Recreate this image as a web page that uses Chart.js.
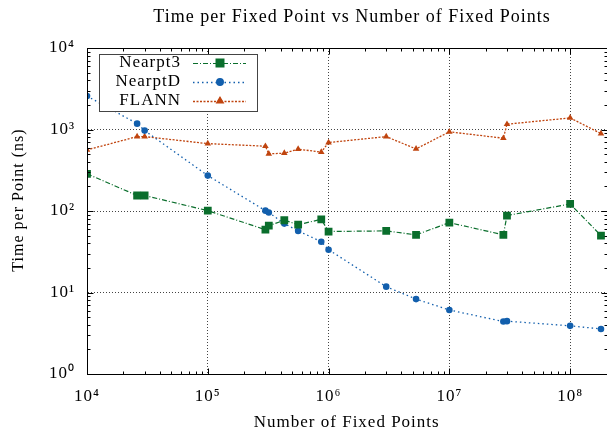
<!DOCTYPE html>
<html lang="en">
<head>
  <meta charset="UTF-8"/>
  <title>Time per Fixed Point vs Number of Fixed Points</title>
  <script src="https://cdn.jsdelivr.net/npm/chart.js"></script>
  <style>
    html, body { margin: 0; padding: 0; overflow: hidden; background: #fff; }
  </style>
</head>
<body>
  <canvas id="chart" width="612" height="431"></canvas>

  <script>
    // data (log-log)
    const fixedPoints = [1e4, 2.6e4, 3e4, 1e5, 3e5, 3.2e5, 4.3e5, 5.6e5, 8.7e5, 1e6, 3e6, 5.3e6, 1e7, 2.8e7, 3e7, 1e8, 1.8e8];
    const nearpt3 = [286, 155, 155, 101, 59, 66, 77, 68, 79, 56, 57, 51, 72, 51, 88, 122, 50];
    const nearptD = [2570, 1180, 970, 272, 101, 96, 70, 57, 42, 33.5, 11.8, 8.3, 6.1, 4.4, 4.45, 3.9, 3.57];
    const flann = [562, 818, 818, 671, 624, 502, 513, 574, 527, 692, 818, 578, 936, 782, 1162, 1387, 891];
    const xTicks = [1e4, 1e5, 1e6, 1e7, 1e8];
    const yTicks = [1, 10, 100, 1000, 10000];

    const SERIF = 'Liberation Serif';
    const sup = {'0':'\u2070','1':'\u00b9','2':'\u00b2','3':'\u00b3','4':'\u2074','5':'\u2075','6':'\u2076','7':'\u2077','8':'\u2078','9':'\u2079'};
    const pow10 = v => '10' + sup[String(Math.round(Math.log10(v)))];
    const pts = ys => fixedPoints.map((x, i) => ({x: x, y: ys[i]}));

    // border box, inward minor/major ticks, title, y label, legend
    const frame = {
      id: 'frame',
      beforeDraw(chart) {
        chart.ctx.letterSpacing = '1px';
      },
      afterDraw(chart) {
        const {ctx, chartArea: a, scales: {x, y}} = chart;
        const L = Math.round(a.left) + .5, R = Math.round(a.right) + .5;
        const T = Math.round(a.top) + .5, B = Math.round(a.bottom) + .5;
        ctx.save();
        ctx.strokeStyle = '#000';
        ctx.lineWidth = 1;
        ctx.strokeRect(L, T, R - L, B - T);
        ctx.beginPath();
        for (let d = 4; d <= 8; d++) {
          for (let m = 1; m <= 9; m++) {
            const v = m * Math.pow(10, d);
            if (v > x.max) break;
            const px = Math.round(x.getPixelForValue(v)) + .5;
            const len = m === 1 ? 6 : 3;
            ctx.moveTo(px, B); ctx.lineTo(px, B - len);
            ctx.moveTo(px, T); ctx.lineTo(px, T + len);
          }
        }
        for (let d = 0; d <= 4; d++) {
          for (let m = 1; m <= 9; m++) {
            const v = m * Math.pow(10, d);
            if (v > y.max) break;
            const py = Math.round(y.getPixelForValue(v)) + .5;
            const len = m === 1 ? 6 : 3;
            ctx.moveTo(L, py); ctx.lineTo(L + len, py);
            ctx.moveTo(R, py); ctx.lineTo(R - len, py);
          }
        }
        ctx.stroke();

        ctx.fillStyle = '#000';
        ctx.letterSpacing = '1px';
        ctx.textAlign = 'center';
        ctx.textBaseline = 'middle';

        // title, centred on the plot
        ctx.font = '18px "' + SERIF + '"';
        ctx.fillText('Time per Fixed Point vs Number of Fixed Points', 352, 17);

        // y axis label
        ctx.font = '16px "' + SERIF + '"';
        ctx.save();
        ctx.translate(19, 200);
        ctx.rotate(-Math.PI / 2);
        ctx.fillText('Time per Point (ns)', 0, 0);
        ctx.restore();

        // legend
        ctx.font = '17px "' + SERIF + '"';
        ctx.fillStyle = '#fff';
        ctx.fillRect(99.5, 54.5, 158, 57);
        ctx.strokeStyle = '#444';
        ctx.strokeRect(99.5, 54.5, 158, 57);
        const rows = [63, 82, 101];
        chart.data.datasets.forEach((ds, i) => {
          const ry = rows[i];
          ctx.fillStyle = '#000';
          ctx.textAlign = 'right';
          ctx.fillText(ds.label, 181, ry);
          ctx.strokeStyle = ds.borderColor;
          ctx.lineWidth = ds.borderWidth;
          ctx.setLineDash(ds.borderDash);
          ctx.beginPath();
          ctx.moveTo(193, ry + .5); ctx.lineTo(246, ry + .5);
          ctx.stroke();
          ctx.setLineDash([]);
          ctx.fillStyle = ds.backgroundColor;
          Chart.helpers.drawPoint(ctx, {pointStyle: ds.pointStyle, radius: ds.pointRadius, rotation: 0, borderWidth: 1}, 220, ry);
          ctx.fill();
        });
        ctx.restore();
      }
    };

    const ctx = document.getElementById('chart').getContext('2d');
    new Chart(ctx, {
      type: 'line',
      data: {
        datasets: [
          { label: 'Nearpt3', data: pts(nearpt3), borderColor: '#0a6e2c', backgroundColor: '#0a6e2c',
            borderWidth: 1.2, borderDash: [5, 2, 1, 2], pointStyle: 'rect', pointRadius: 5.5, pointBorderWidth: 0 },
          { label: 'NearptD', data: pts(nearptD), borderColor: '#125fad', backgroundColor: '#125fad',
            borderWidth: 1.3, borderDash: [1.5, 3], pointStyle: 'circle', pointRadius: 3.3, pointBorderWidth: 0 },
          { label: 'FLANN', data: pts(flann), borderColor: '#c0440e', backgroundColor: '#c0440e',
            borderWidth: 1.3, borderDash: [2, 1.5], pointStyle: 'triangle', pointRadius: 3.8, pointBorderWidth: 0 }
        ]
      },
      options: {
        responsive: false,
        animation: false,
        layout: { padding: { left: 0, right: 3, top: 48, bottom: 0 } },
        plugins: {
          legend: { display: false },
          tooltip: { enabled: false },
          title: { display: false }
        },
        scales: {
          x: {
            type: 'logarithmic',
            min: 1e4, max: 2e8,
            afterBuildTicks: s => { s.ticks = xTicks.map(v => ({value: v})); },
            afterFit: s => { s.height = 57; },
            ticks: { callback: v => pow10(v), color: '#000', font: { family: SERIF, size: 17 },
                     padding: 12, maxRotation: 0, autoSkip: false },
            grid: { color: '#444', lineWidth: 1, drawTicks: false },
            border: { display: true, color: '#000', dash: [1, 2] },
            title: { display: true, text: 'Number of Fixed Points', color: '#000',
                     font: { family: SERIF, size: 17 }, padding: { top: 0, bottom: -2 } }
          },
          y: {
            type: 'logarithmic',
            min: 1, max: 1e4,
            afterBuildTicks: s => { s.ticks = yTicks.map(v => ({value: v})); },
            afterFit: s => { s.width = 87; },
            ticks: { callback: v => pow10(v), color: '#000', font: { family: SERIF, size: 17 },
                     padding: 12, autoSkip: false },
            grid: { color: '#444', lineWidth: 1, drawTicks: false },
            border: { display: true, color: '#000', dash: [1, 2] }
          }
        }
      },
      plugins: [frame]
    });
  </script>
</body>
</html>
